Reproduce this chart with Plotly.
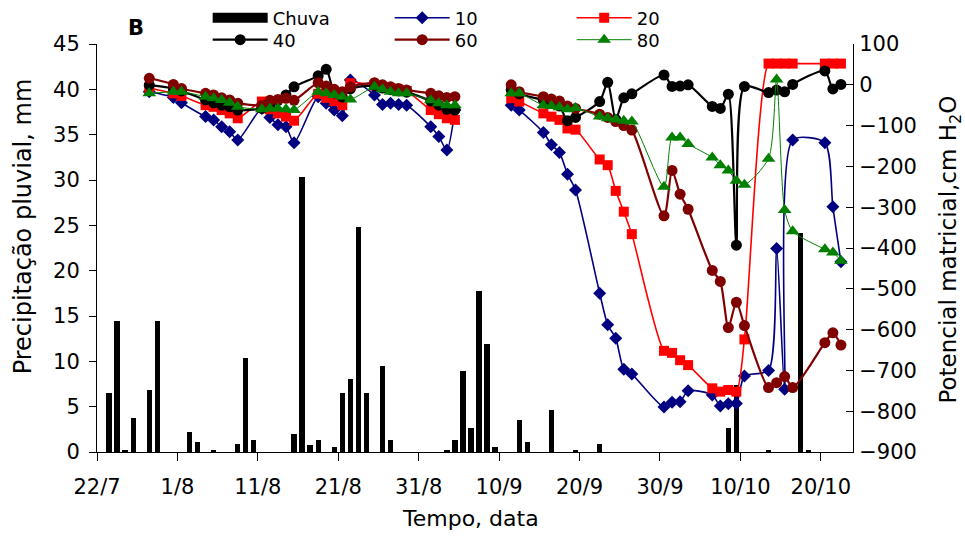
import pandas as pd
import plotly.graph_objects as go

ANO = 2007

# Chuva diária (mm)
datas_chuva = ["23/7", "24/7", "25/7", "26/7", "28/7", "29/7", "2/8", "3/8", "5/8", "8/8", "9/8", "10/8",
               "15/8", "16/8", "17/8", "18/8", "20/8", "21/8", "22/8", "23/8", "24/8", "26/8", "27/8",
               "3/9", "4/9", "5/9", "6/9", "7/9", "8/9", "9/9", "12/9", "13/9", "16/9", "19/9", "22/9",
               "8/10", "9/10", "13/10", "17/10", "18/10"]
chuva = [6.5, 14.5, 0.25, 3.75, 6.8, 14.5, 2.2, 1.1, 0.25, 0.9, 10.4, 1.3,
         2.0, 30.3, 0.75, 1.3, 0.5, 6.5, 8.0, 24.8, 6.5, 9.5, 1.3,
         0.25, 1.3, 8.9, 2.7, 17.8, 11.9, 0.5, 3.5, 1.1, 4.6, 0.25, 0.9,
         2.7, 7.4, 0.25, 24.2, 0.25]

# Datas de leitura dos tensiômetros (7/9 sem leitura: interrompe as linhas)
datas_leitura = ["28/7", "31/7", "1/8", "4/8", "5/8", "6/8", "7/8", "8/8",
                 "11/8", "12/8", "13/8", "14/8", "15/8",
                 "18/8", "19/8", "20/8", "21/8", "22/8",
                 "25/8", "26/8", "27/8", "28/8", "29/8",
                 "1/9", "2/9", "3/9", "4/9",
                 "7/9",
                 "11/9", "12/9",
                 "15/9", "16/9", "17/9", "18/9", "19/9",
                 "22/9", "23/9", "24/9", "25/9", "26/9",
                 "30/9", "1/10", "2/10", "3/10",
                 "6/10", "7/10", "8/10", "9/10", "10/10",
                 "13/10", "14/10", "15/10", "16/10",
                 "20/10", "21/10", "22/10"]

# Potencial matricial (cm H2O) por profundidade (cm)
pot_10 = [-17, -31, -44, -78, -86, -103, -115, -135,
          -58, -80, -98, -103, -142,
          -29, -45, -62, -76, 12,
          -25, -48, -45, -48, -50,
          -103, -127, -160, -62,
          None,
          -50, -62,
          -117, -147, -166, -219, -258,
          -511, -588, -621, -697, -709,
          -790, -778, -777, -750,
          -760, -787, -782, -781, -714,
          -700, -401, -746, -135,
          -142, -299, -434]
pot_20 = [-8, -21, -27, -50, -54, -62, -70, -82,
          -41, -60, -70, -78, -88,
          -22, -32, -40, -50, 4,
          -2, -5, -8, -12, -15,
          -62, -72, -82, -86,
          None,
          -33, -41,
          -70, -78, -86, -107, -110,
          -183, -197, -260, -311, -366,
          -652, -657, -675, -687,
          -744, -752, -748, -752, -624,
          52, 52, 52, 52,
          52, 52, 52]
pot_40 = [-1, -9, -15, -37, -44, -50, -54, -62,
          -58, -48, -38, -25, -5,
          22, 38, -20, -30, -10,
          -2, -8, -12, -15, -18,
          -40, -50, -60, -62,
          None,
          -12, -22,
          -38, -45, -52, -88, -80,
          -41, 6, -85, -32, -22,
          24, -4, -3, 0,
          -53, -58, -23, -393, -4,
          -19, -13, -17, 1,
          34, -10, 1]
pot_60 = [16, 1, -9, -21, -25, -32, -37, -45,
          -50, -38, -36, -33, -38,
          5, -3, -11, -17, -5,
          5, 0, -5, -9, -13,
          -21, -27, -31, -29,
          None,
          0, -17,
          -29, -35, -40, -52, -58,
          -72, -80, -90, -100, -111,
          -321, -210, -268, -305,
          -455, -482, -595, -533, -590,
          -742, -730, -715, -742,
          -632, -608, -638]
pot_80 = [-21, -17, -17, -29, -33, -37, -44, -54,
          -60, -58, -58, -60, -62,
          -17, -21, -25, -29, -36,
          -5, -11, -17, -21, -21,
          -38, -45, -50, -50,
          None,
          -21, -21,
          -50, -52, -55, -60, -57,
          -78, -82, -85, -88, -90,
          -250, -129, -129, -145,
          -178, -197, -210, -235, -245,
          -181, 13, -307, -359,
          -403, -411, -431]

rotulos_x = ["22/7", "1/8", "11/8", "21/8", "31/8", "10/9", "20/9", "30/9", "10/10", "20/10"]
ticks_esq = [0, 5, 10, 15, 20, 25, 30, 35, 40, 45]
ticks_dir = [-900, -800, -700, -600, -500, -400, -300, -200, -100, 0, 100]


def para_data(s, hora=12):
    d, m = s.split("/")
    return pd.Timestamp(year=ANO, month=int(m), day=int(d), hour=hora)


x_chuva = [para_data(s) for s in datas_chuva]
x_leit = [para_data(s) for s in datas_leitura]
x_ticks = [para_data(s, 0) for s in rotulos_x]
DIA_MS = 86400000

FONTE = "DejaVu Sans"

fig = go.Figure()

fig.add_trace(go.Bar(
    x=x_chuva, y=chuva, width=0.66 * DIA_MS, marker=dict(color="black", line=dict(width=0)),
    name="Chuva", showlegend=False, yaxis="y"))

# entrada de legenda da chuva (barra preta larga)
fig.add_trace(go.Scatter(
    x=[None], y=[None], mode="lines", name="Chuva", line=dict(color="black", width=13),
    legend="legend", yaxis="y"))

series = [
    ("10", pot_10, "#000080", 1.6, "diamond", 10, "legend"),
    ("20", pot_20, "#FF0000", 1.6, "square", 10, "legend"),
    ("40", pot_40, "#000000", 2.2, "circle", 11, "legend2"),
    ("60", pot_60, "#800000", 2.2, "circle", 11, "legend2"),
    ("80", pot_80, "#008000", 1.0, "triangle-up", 12, "legend2"),
]
for nome, vals, cor, lw, simb, tam, leg in series:
    fig.add_trace(go.Scatter(
        x=x_leit, y=vals, name=nome, mode="lines+markers", yaxis="y2",
        line=dict(color=cor, width=lw, shape="spline", smoothing=0.7),
        marker=dict(symbol=simb, size=tam, color=cor),
        connectgaps=False, legend=leg))

fonte_eixo = dict(family=FONTE, size=21, color="black")
legenda = dict(orientation="h", x=0.1464, xanchor="left", yanchor="middle",
               entrywidth=112, itemwidth=55, font=dict(family=FONTE, size=18),
               bgcolor="rgba(0,0,0,0)", tracegroupgap=0)

fig.update_layout(
    width=965, height=538,
    margin=dict(l=97, r=112, t=44, b=86, autoexpand=False),
    paper_bgcolor="white", plot_bgcolor="white",
    font=dict(family=FONTE, color="black"),
    bargap=0,
    xaxis=dict(
        type="date", range=[para_data("22/7", 0), para_data("24/10", 0)],
        tickmode="array", tickvals=x_ticks, ticktext=rotulos_x,
        ticks="outside", ticklen=8, tickcolor="black", tickwidth=1,
        showline=True, linecolor="black", linewidth=1, showgrid=False, zeroline=False,
        tickfont=fonte_eixo, ticklabelstandoff=8),
    yaxis=dict(
        range=[0, 45], tickmode="array", tickvals=ticks_esq,
        ticks="outside", ticklen=7, tickcolor="black",
        showline=True, linecolor="black", linewidth=1, showgrid=False, zeroline=False,
        tickfont=fonte_eixo, ticklabelstandoff=5),
    yaxis2=dict(
        range=[-900, 100], tickmode="array", tickvals=ticks_dir,
        overlaying="y", side="right", anchor="x",
        ticks="inside", ticklen=7, tickcolor="black",
        showline=True, linecolor="black", linewidth=1, showgrid=False, zeroline=False,
        tickfont=fonte_eixo, ticklabelstandoff=1),
    legend=dict(legenda, y=1.0637),
    legend2=dict(legenda, y=1.0098),
    annotations=[
        dict(text="<b>B</b>", x=0.051, y=1.039, xref="paper", yref="paper",
             xanchor="center", yanchor="middle",
             showarrow=False, font=dict(family=FONTE, size=21)),
        dict(text="Tempo, data", x=0.4947, y=-0.164, xref="paper", yref="paper",
             xanchor="center", yanchor="middle",
             showarrow=False, font=dict(family=FONTE, size=22)),
        dict(text="Precipitação pluvial, mm", x=-0.0974, y=0.554, xref="paper", yref="paper",
             xanchor="center", yanchor="middle",
             showarrow=False, textangle=-90, font=dict(family=FONTE, size=24)),
        dict(text="Potencial matricial,cm H<sub>2</sub>O", x=1.129, y=0.495,
             xref="paper", yref="paper", xanchor="center", yanchor="middle",
             showarrow=False, textangle=-90,
             font=dict(family=FONTE, size=23)),
    ],
)

fig.write_html("out.html")
